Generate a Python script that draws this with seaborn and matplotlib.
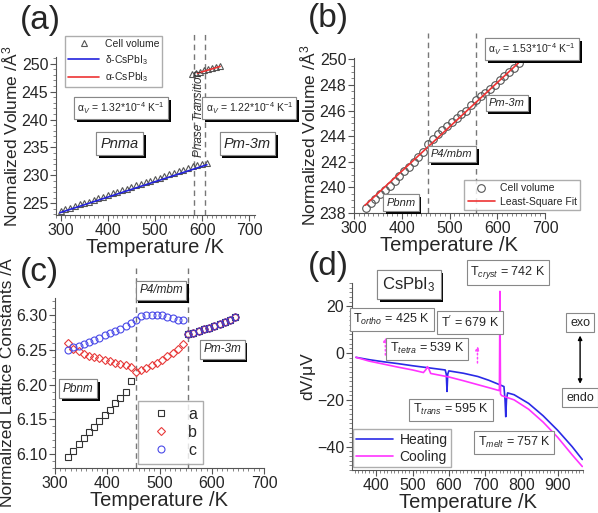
import seaborn as sns
import matplotlib.pyplot as plt
import matplotlib.patheffects as pe
from matplotlib.ticker import MultipleLocator, FormatStrFormatter

sns.set_style("ticks")
plt.rcParams['font.family'] = ['Liberation Sans', 'DejaVu Sans']
plt.rcParams['mathtext.fontset'] = 'custom'
plt.rcParams['mathtext.rm'] = 'Liberation Sans'
plt.rcParams['mathtext.it'] = 'Liberation Sans:italic'
plt.rcParams['mathtext.bf'] = 'Liberation Sans:bold'

# (a) cell volume across the delta -> alpha transition
a_T_low = [300, 310, 320, 330, 340, 350, 360, 370, 380, 390, 400, 410, 420, 430, 440, 450,
           460, 470, 480, 490, 500, 510, 520, 530, 540, 550, 560, 570, 580, 590, 600, 610]
a_V_low = [223.6, 223.9, 224.2, 224.5, 224.8, 225.0, 225.3, 225.6, 225.9, 226.2, 226.5, 226.8,
           227.0, 227.3, 227.6, 227.9, 228.2, 228.5, 228.8, 229.0, 229.3, 229.6, 229.9, 230.2,
           230.5, 230.7, 231.0, 231.3, 231.6, 231.9, 232.0, 232.2]
a_T_high = [578, 587, 595, 604, 612, 621, 629, 638]
a_V_high = [248.2, 248.4, 248.6, 248.8, 249.0, 249.2, 249.4, 249.6]
delta_fit_T = [298, 610]
delta_fit_V = [223.3, 231.9]
alpha_fit_T = [590, 638]
alpha_fit_V = [248.3, 249.5]

# (b) cell volume, orthorhombic -> tetragonal -> cubic
b_T = [325, 335, 345, 355, 365, 375, 385, 395, 405, 415, 425, 435, 445, 455, 465, 475, 485,
       495, 505, 515, 525, 535, 545, 555, 565, 575, 585, 595, 605, 615, 625, 635, 645]
b_V = [238.4, 238.8, 239.1, 239.5, 239.8, 240.1, 240.5, 240.9, 241.3, 241.6, 242.0, 242.4,
       242.8, 243.4, 243.8, 244.2, 244.5, 244.8, 245.1, 245.4, 245.7, 246.0, 246.4, 246.8,
       247.1, 247.4, 247.7, 248.0, 248.4, 248.7, 249.0, 249.3, 249.7]
b_fit_T = [323, 644]
b_fit_V = [238.6, 249.7]

# (c) lattice constants
c_T_orth = [325, 335, 345, 355, 365, 375, 385, 395, 405, 415, 425, 435, 445]
c_a_orth = [6.096, 6.105, 6.114, 6.123, 6.132, 6.139, 6.148, 6.157, 6.164, 6.173, 6.181, 6.189, 6.205]
c_T_bc = [325, 335, 345, 355, 365, 375, 385, 395, 405, 415, 425, 435, 445, 455, 465, 475,
          485, 495, 505, 515, 525, 535, 545]
c_b = [6.260, 6.252, 6.248, 6.245, 6.242, 6.240, 6.238, 6.236, 6.234, 6.232, 6.230, 6.228,
       6.225, 6.219, 6.221, 6.224, 6.228, 6.232, 6.236, 6.241, 6.246, 6.252, 6.258]
c_c = [6.250, 6.254, 6.256, 6.259, 6.262, 6.265, 6.268, 6.271, 6.274, 6.277, 6.281, 6.285,
       6.289, 6.294, 6.299, 6.301, 6.301, 6.300, 6.300, 6.298, 6.296, 6.294, 6.293]
c_T_cub = [555, 565, 575, 585, 595, 605, 615, 625, 635, 645]
c_cub = [6.273, 6.275, 6.278, 6.280, 6.282, 6.285, 6.288, 6.291, 6.294, 6.297]

# (d) DTA signal
heat_T = [344, 380, 420, 460, 500, 540, 570, 590, 593, 595, 597, 600, 640, 680, 710, 740,
          752, 755, 757, 759, 762, 780, 820, 860, 900, 940, 968]
heat_V = [-1.8, -2.8, -3.7, -4.5, -5.4, -6.2, -6.8, -7.2, -9.0, -16.4, -9.0, -7.6, -8.6,
          -10.0, -11.6, -13.5, -14.3, -20.0, -27.2, -20.0, -17.0, -17.8, -21.5, -26.8, -33.0,
          -40.0, -45.5]
cool_T = [344, 380, 420, 460, 500, 530, 537, 541, 545, 550, 560, 600, 640, 680, 720, 738,
          739.5, 741, 742.5, 746, 780, 820, 860, 900, 940, 968]
cool_V = [-1.8, -3.4, -4.7, -6.0, -7.2, -8.3, -7.0, -5.8, -6.8, -8.7, -9.0, -10.2, -11.8,
          -13.5, -15.2, -16.0, -16.0, 26.4, -17.5, -18.2, -20.0, -24.0, -29.5, -36.0, -43.5, -48.5]

GRAY = '#555555'
W, H = 598, 513
fig = plt.figure(figsize=(W / 100, H / 100), dpi=100)


def add_ax(l, r, t, b):
    return fig.add_axes([l / W, 1 - b / H, (r - l) / W, (b - t) / H])


def style(ax, xlim, ylim, xmaj, xmin, ymaj, ymin, ylabel):
    ax.set_xlim(xlim)
    ax.set_ylim(ylim)
    ax.xaxis.set_major_locator(MultipleLocator(xmaj))
    ax.xaxis.set_minor_locator(MultipleLocator(xmin))
    ax.yaxis.set_major_locator(MultipleLocator(ymaj))
    ax.yaxis.set_minor_locator(MultipleLocator(ymin))
    sns.despine(ax=ax)
    for s in ['left', 'bottom']:
        ax.spines[s].set_color(GRAY)
        ax.spines[s].set_linewidth(0.8)
    ax.tick_params(which='major', length=4, width=0.8, color=GRAY, labelsize=11.5, pad=1.5)
    ax.tick_params(which='minor', length=2, width=0.5, color=GRAY)
    ax.set_xlabel('Temperature /K', fontsize=14.5, labelpad=0)
    ax.set_ylabel(ylabel, fontsize=12.5, labelpad=1)
    ax.patch.set_alpha(0)


def boxed(ax, x, y, s, size, italic=False, shadow=True):
    t = ax.text(x, y, s, fontsize=size, style='italic' if italic else 'normal',
                ha='center', va='center', zorder=6,
                bbox=dict(boxstyle='square,pad=0.3', fc='white', ec='#888888', lw=0.8))
    if shadow:
        t.get_bbox_patch().set_path_effects(
            [pe.withSimplePatchShadow(offset=(2, -2), shadow_rgbFace='black', alpha=1), pe.Normal()])
    return t


def dashed(ax, x, top):
    ax.axvline(x, ymin=0, ymax=top, color='#777777', lw=1, ls=(0, (4, 3)), clip_on=False, zorder=1)


# ---------------- (a)
ax = add_ax(56, 255, 57, 215)
style(ax, (290, 712), (222.9, 251.2), 100, 10, 5, 1, 'Normalized Volume /Å$^3$')
dashed(ax, 583, 1.16)
dashed(ax, 605, 1.16)
sns.lineplot(x=a_T_low, y=a_V_low, ax=ax, marker='^', linestyle='', mfc='none', mec=GRAY,
             mew=0.8, ms=5, estimator=None, sort=False, label='Cell volume')
sns.lineplot(x=a_T_high, y=a_V_high, ax=ax, marker='^', linestyle='', mfc='none', mec=GRAY,
             mew=0.8, ms=5, estimator=None, sort=False, label='_nolegend_')
sns.lineplot(x=delta_fit_T, y=delta_fit_V, ax=ax, color='#2222dd', lw=1.2, estimator=None,
             label='δ-CsPbI$_3$')
sns.lineplot(x=alpha_fit_T, y=alpha_fit_V, ax=ax, color='#ee3333', lw=1.2, estimator=None,
             label='α-CsPbI$_3$')
ax.legend(loc='upper left', bbox_to_anchor=(65 / W, 1 - 36 / H), bbox_transform=fig.transFigure,
          fontsize=7.5, frameon=True, fancybox=False, edgecolor='#999999', handlelength=3.0,
          borderpad=0.3, labelspacing=0.35, handletextpad=0.5, borderaxespad=0)
boxed(ax, 428, 242.0, 'α$_V$ = 1.32*10$^{-4}$ K$^{-1}$', 7.5)
boxed(ax, 700, 242.0, 'α$_V$ = 1.22*10$^{-4}$ K$^{-1}$', 7.5)
boxed(ax, 425, 235.7, 'Pnma', 10.5, italic=True)
boxed(ax, 696, 235.7, 'Pm-3m', 10.5, italic=True)
ax.text(594, 241.1, 'Phase Transition', rotation=90, fontsize=8.5, style='italic',
        ha='center', va='center', color='#333333')
fig.text(40 / W, 1 - 20 / H, '(a)', fontsize=24, ha='center', va='center')

# ---------------- (b)
ax = add_ax(354, 545, 58, 213)
style(ax, (300, 700), (238, 250.1), 100, 10, 2, 0.5, 'Normalized Volume /Å$^3$')
dashed(ax, 455, 1.16)
dashed(ax, 555, 1.16)
sns.lineplot(x=b_T, y=b_V, ax=ax, marker='o', linestyle='', mfc='none', mec=GRAY, mew=0.8,
             ms=5.5, estimator=None, sort=False, label='Cell volume')
sns.lineplot(x=b_fit_T, y=b_fit_V, ax=ax, color='#ee3333', lw=1.2, estimator=None,
             label='Least-Square Fit')
ax.legend(loc='lower right', bbox_to_anchor=(580 / W, 1 - 210 / H), bbox_transform=fig.transFigure,
          fontsize=7.5, frameon=True, fancybox=False, edgecolor='#999999', handlelength=2.6,
          borderpad=0.3, labelspacing=0.35, handletextpad=0.5, borderaxespad=0)
boxed(ax, 673, 250.8, 'α$_V$ = 1.53*10$^{-4}$ K$^{-1}$', 7.5)
boxed(ax, 620, 246.6, 'Pm-3m', 8, italic=True)
boxed(ax, 505, 242.6, 'P4/mbm', 8, italic=True)
boxed(ax, 398, 238.8, 'Pbnm', 8, italic=True)
fig.text(328 / W, 1 - 19 / H, '(b)', fontsize=24, ha='center', va='center')

# ---------------- (c)
ax = add_ax(55, 264, 298, 468)
style(ax, (300, 700), (6.08, 6.325), 100, 10, 0.05, 0.01, 'Normalized Lattice Constants /Å')
ax.yaxis.set_major_formatter(FormatStrFormatter('%.2f'))
dashed(ax, 455, 1.19)
dashed(ax, 555, 1.19)
sns.lineplot(x=c_T_orth, y=c_a_orth, ax=ax, marker='s', linestyle='', mfc='none', mec='#333333',
             mew=0.8, ms=5, estimator=None, sort=False, label='a')
sns.lineplot(x=c_T_bc, y=c_b, ax=ax, marker='D', linestyle='', mfc='none', mec='#e83a3a',
             mew=0.8, ms=4.5, estimator=None, sort=False, label='b')
sns.lineplot(x=c_T_bc, y=c_c, ax=ax, marker='o', linestyle='', mfc='none', mec='#4a4ae8',
             mew=0.8, ms=5, estimator=None, sort=False, label='c')
sns.lineplot(x=c_T_cub, y=c_cub, ax=ax, marker='s', linestyle='', mfc='none', mec='#333333',
             mew=0.8, ms=5, estimator=None, sort=False, label='_nolegend_')
sns.lineplot(x=c_T_cub, y=c_cub, ax=ax, marker='D', linestyle='', mfc='none', mec='#e83a3a',
             mew=0.8, ms=4.5, estimator=None, sort=False, label='_nolegend_')
sns.lineplot(x=c_T_cub, y=c_cub, ax=ax, marker='o', linestyle='', mfc='none', mec='#3a3ad0',
             mew=0.8, ms=5, estimator=None, sort=False, label='_nolegend_')
ax.legend(loc='upper left', bbox_to_anchor=(138 / W, 1 - 401 / H), bbox_transform=fig.transFigure,
          fontsize=11.5, frameon=True, fancybox=False, edgecolor='#999999', handlelength=2.2,
          borderpad=0.35, labelspacing=0.2, handletextpad=0.6, borderaxespad=0)
boxed(ax, 503, 6.336, 'P4/mbm', 8.5, italic=True)
boxed(ax, 620, 6.251, 'Pm-3m', 8.5, italic=True)
boxed(ax, 344, 6.194, 'Pbnm', 8.5, italic=True)
fig.text(39 / W, 1 - 272 / H, '(c)', fontsize=24, ha='center', va='center')

# ---------------- (d)
ax = add_ax(352, 583, 283, 470)
style(ax, (333, 970), (-50, 30), 100, 10, 20, 2, 'dV/μV')
sns.lineplot(x=heat_T, y=heat_V, ax=ax, color='#2a2ae6', lw=1.2, estimator=None, sort=False,
             label='Heating')
sns.lineplot(x=cool_T, y=cool_V, ax=ax, color='#ff33ff', lw=1.2, estimator=None, sort=False,
             label='Cooling')
ax.legend(loc='lower left', bbox_to_anchor=(353 / W, 1 - 467 / H), bbox_transform=fig.transFigure,
          fontsize=10, frameon=True, fancybox=False, edgecolor='#999999', handlelength=2.6,
          borderpad=0.25, labelspacing=0.2, handletextpad=0.5, borderaxespad=0)
for xa, y0, y1 in [(425, -2, 8), (679, -5.4, 4.3)]:
    ax.annotate('', xy=(xa, y1), xytext=(xa, y0),
                arrowprops=dict(arrowstyle='-|>', ls=':', color='#ff44ff', lw=1.1, mutation_scale=6))
ax.annotate('', xy=(962, 8.7), xytext=(962, -14.3),
            arrowprops=dict(arrowstyle='<|-|>', color='black', lw=1, mutation_scale=6))
boxed(ax, 490, 29.3, 'CsPbI$_3$', 12)
boxed(ax, 443, 14.3, 'T$_{ortho}$ = 425 K', 9, shadow=False)
boxed(ax, 540, 1.8, 'T$_{tetra}$ = 539 K', 9, shadow=False)
boxed(ax, 658, 13.1, 'T$^{\\prime}$ = 679 K', 9, shadow=False)
boxed(ax, 763, 34.4, 'T$_{cryst}$ = 742 K', 9, shadow=False)
boxed(ax, 606, -24.3, 'T$_{trans}$ = 595 K', 9, shadow=False)
boxed(ax, 780, -38.3, 'T$_{melt}$ = 757 K', 9, shadow=False)
boxed(ax, 962, 13.1, 'exo', 9, shadow=False)
boxed(ax, 962, -19.0, 'endo', 9, shadow=False)
fig.text(328 / W, 1 - 267 / H, '(d)', fontsize=24, ha='center', va='center')

fig.savefig('out.png', dpi=100)
